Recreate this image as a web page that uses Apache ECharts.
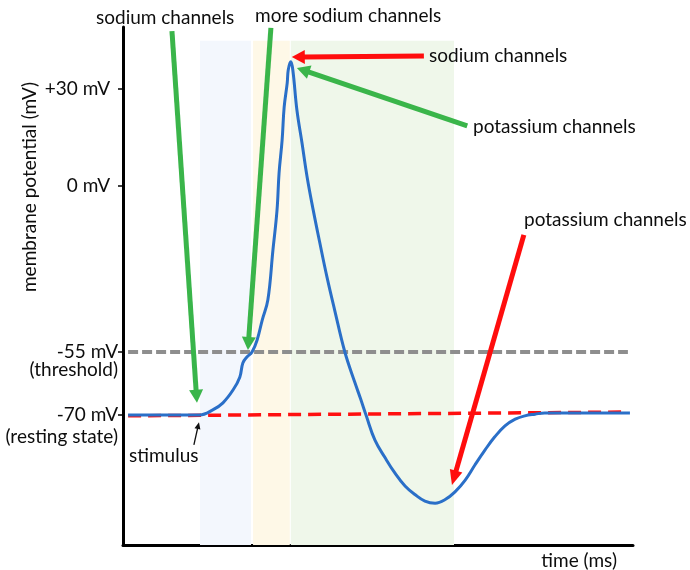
<!DOCTYPE html>
<html><head><meta charset="utf-8">
<script src="https://cdn.jsdelivr.net/npm/echarts@6/dist/echarts.min.js"></script>
<style>html,body{margin:0;padding:0;background:#fff}#c{width:690px;height:570px}</style>
</head><body><div id="c"></div>
<script>
// ---- data (time in ms, membrane potential in mV) ----
const timeMs = [0.1, 1.5, 1.76, 1.96, 2.16, 2.29, 2.35, 2.43, 2.53, 2.63, 2.73, 2.84, 2.94, 3.02, 3.06, 3.12, 3.16, 3.22, 3.24, 3.29, 3.33, 3.41, 3.51, 3.61, 3.73, 3.86, 4.00, 4.15, 4.35, 4.55, 4.66, 4.77, 4.94, 5.14, 5.33, 5.53, 5.73, 5.92, 6.12, 6.31, 6.51, 6.71, 6.90, 7.10, 7.29, 7.49, 7.69, 7.88, 8.08, 8.27, 9.94];
const potentialMV = [-70, -70, -68.8, -67.1, -64.0, -61.0, -57.6, -56.2, -55, -51.0, -44.4, -37.8, -21.2, -8.0, 4.0, 14.2, 24.4, 31.9, 35.9, 38.4, 35.9, 23.5, 13.3, 2.8, -8.0, -18.9, -30.2, -41.1, -55, -62.4, -66.2, -70.2, -76.0, -80.2, -83.8, -86.9, -89.0, -90.5, -91.0, -90.2, -88.3, -85.5, -81.9, -78.3, -75.2, -72.6, -71.0, -70.2, -69.8, -69.5, -69.5];
const restTime = [0.1, 9.88];
const restMV = [-70.2, -69.3];
const thresholdTime = [0.1, 9.9];
const thresholdMV = [-55, -55];
const tickMV = [-70, -55, 0, 30];
const tickLabels = [['-70 mV', '(resting state)'], ['-55 mV', '(threshold)'], ['0 mV'], ['+30 mV']];
const phaseStart = [1.51, 2.55, 3.29];
const phaseEnd = [2.51, 3.27, 6.49];
const phaseTopMV = 44.9;
// annotation arrows: tail and tip in [time, mV]
const arrowTail = [[0.96, 47.9], [2.90, 48.9], [5.90, 40.2], [6.75, 18.6], [7.86, -16.2], [1.39, -77.1]];
const arrowTip  = [[1.45, -67.1], [2.45, -54.3], [3.31, 39.9], [3.41, 36.5], [6.45, -86.7], [1.49, -71.7]];

// schematic (non-linear) vertical scale of the diagram: mV -> display units
const knotMV = [-70, -55, 0, 30];
const knotU  = [-70.82, -51.34, 0, 30];
function toU(v) {
  if (v <= knotMV[0]) return knotU[0] + (v - knotMV[0]) * (knotU[1] - knotU[0]) / (knotMV[1] - knotMV[0]);
  for (let i = 0; i < knotMV.length - 1; i++) {
    if (v <= knotMV[i + 1]) return knotU[i] + (v - knotMV[i]) * (knotU[i + 1] - knotU[i]) / (knotMV[i + 1] - knotMV[i]);
  }
  const n = knotMV.length - 1;
  return knotU[n] + (v - knotMV[n]) * (knotU[n] - knotU[n - 1]) / (knotMV[n] - knotMV[n - 1]);
}

const FONT = 'Lato';
const TXT = '#0d0d0d';
const chart = echarts.init(document.getElementById('c'), null, {renderer: 'canvas'});
const yMin = -111.03, yMax = 49.18;
const tickU = tickMV.map(toU);
const phaseColors = ['#f3f7fd', '#fef8e7', '#eff7ea'];

chart.setOption({
  animation: false,
  backgroundColor: '#fff',
  grid: {left: 123, right: 57, top: 27, bottom: 25},
  xAxis: {
    type: 'value', min: 0, max: 10,
    axisLine: {show: true, onZero: false, lineStyle: {color: '#000', width: 3}},
    axisTick: {show: false}, axisLabel: {show: false}, splitLine: {show: false},
    name: 'time (ms)', nameLocation: 'end', nameGap: -16,
    nameTextStyle: {fontFamily: FONT, fontSize: 19, color: TXT, align: 'right', verticalAlign: 'top', padding: [6, 0, 0, 0]}
  },
  yAxis: {
    type: 'value', min: yMin, max: yMax,
    axisLine: {show: true, lineStyle: {color: '#000', width: 3}},
    splitLine: {show: false},
    axisTick: {show: true, customValues: tickU, length: 5, lineStyle: {color: '#000', width: 1.5}},
    axisLabel: {
      show: true, customValues: tickU, margin: 5,
      fontFamily: FONT, fontSize: 19, color: TXT,
      formatter: function (val) {
        let best = 0;
        tickU.forEach((u, i) => { if (Math.abs(u - val) < Math.abs(tickU[best] - val)) best = i; });
        const lines = tickLabels[best];
        if (lines.length === 1) return '{p|' + lines[0] + '}';
        const s = best === 0 ? 'r' : 't';
        return '{' + s + '| }\n{' + s + '|' + lines[0] + '}\n{' + s + '|' + lines[1] + '}';
      },
      rich: {
        p: {fontFamily: FONT, fontSize: 19, color: TXT, padding: [0, 8, 0, 0]},
        t: {fontFamily: FONT, fontSize: 19, color: TXT, lineHeight: 18},
        r: {fontFamily: FONT, fontSize: 19, color: TXT, lineHeight: 22}
      }
    }
  },
  series: [
    {
      type: 'line', name: 'phases', data: [], z: 1,
      markArea: {
        silent: true,
        data: phaseStart.map((s, i) => [
          {coord: [s, toU(phaseTopMV)], itemStyle: {color: phaseColors[i]}},
          {coord: [phaseEnd[i], yMin]}
        ])
      }
    },
    {
      type: 'line', name: 'threshold', z: 2, symbol: 'none',
      data: thresholdTime.map((t, i) => [t, toU(thresholdMV[i])]),
      lineStyle: {color: '#8e8e8e', width: 4, type: [10, 4]}
    },
    {
      type: 'line', name: 'resting', z: 3, symbol: 'none',
      data: restTime.map((t, i) => [t, toU(restMV[i])]),
      lineStyle: {color: '#ff1010', width: 3.5, type: [13, 7]}
    },
    {
      type: 'line', name: 'membrane potential', z: 4, symbol: 'none', smooth: 0.4,
      data: timeMs.map((t, i) => [t, toU(potentialMV[i])]),
      lineStyle: {color: '#2a6fc8', width: 3}
    }
  ]
});

// annotations
const arrowStyle = [
  {color: '#3ab54a', w: 5, L: 13, W: 14},
  {color: '#3ab54a', w: 5, L: 13, W: 14},
  {color: '#ff0d0d', w: 5, L: 13, W: 14},
  {color: '#3ab54a', w: 5, L: 13, W: 14},
  {color: '#ff0d0d', w: 5, L: 15, W: 13},
  {color: '#111', w: 1.3, L: 7, W: 6}
];
const graphics = [];
arrowTail.forEach((tl, i) => {
  const a = chart.convertToPixel({gridIndex: 0}, [tl[0], toU(tl[1])]);
  const b = chart.convertToPixel({gridIndex: 0}, [arrowTip[i][0], toU(arrowTip[i][1])]);
  const st = arrowStyle[i];
  const dx = b[0] - a[0], dy = b[1] - a[1], len = Math.hypot(dx, dy);
  const ux = dx / len, uy = dy / len, px = -uy, py = ux;
  const bx = b[0] - ux * st.L, by = b[1] - uy * st.L;
  graphics.push({type: 'line', z: 100, shape: {x1: a[0], y1: a[1], x2: bx + ux, y2: by + uy}, style: {stroke: st.color, lineWidth: st.w}});
  graphics.push({type: 'polygon', z: 100, shape: {points: [[b[0], b[1]], [bx + px * st.W / 2, by + py * st.W / 2], [bx - px * st.W / 2, by - py * st.W / 2]]}, style: {fill: st.color}});
});
const notes = [
  ['sodium channels', 96, 18],
  ['more sodium channels', 255, 15.5],
  ['sodium channels', 429, 55.5],
  ['potassium channels', 473, 126.5],
  ['potassium channels', 524, 219.5],
  ['stimulus', 129, 456]
];
notes.forEach(n => graphics.push({type: 'text', z: 100, x: n[1], y: n[2], style: {text: n[0], font: '19px ' + FONT, fill: TXT, align: 'left', verticalAlign: 'middle'}}));
graphics.push({type: 'text', z: 100, x: 30, y: 187, rotation: Math.PI / 2, style: {text: 'membrane potential (mV)', font: '19px ' + FONT, fill: TXT, align: 'center', verticalAlign: 'middle'}});
chart.setOption({graphic: graphics});
</script></body></html>
